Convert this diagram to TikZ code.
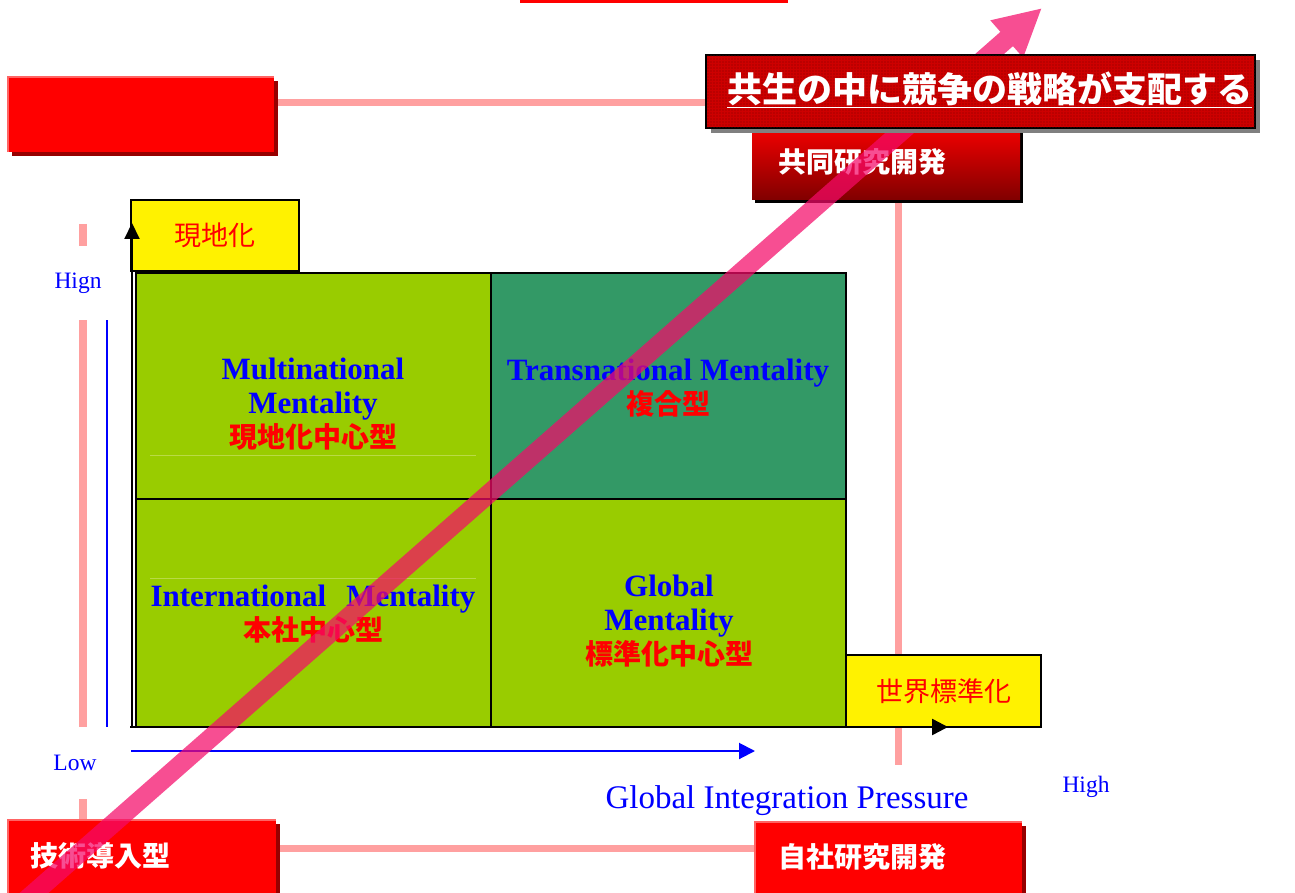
\documentclass[tikz,border=0pt]{standalone}
\usepackage{fontspec}
\setmainfont{Liberation Serif}
\newfontfamily\jp{Noto Sans CJK JP}
\usetikzlibrary{arrows.meta,patterns.meta,shadows,calc}
\pgfdeclarelayer{bg}
\pgfsetlayers{bg,main}
\definecolor{lgreen}{RGB}{153,204,0}
\definecolor{sgreen}{RGB}{51,153,102}
\definecolor{pinkl}{RGB}{255,160,160}
\definecolor{shadowred}{RGB}{150,0,0}
\definecolor{edgered}{RGB}{255,100,100}
\definecolor{darkredB}{RGB}{128,0,0}
\definecolor{arrowpink}{RGB}{245,10,105}
\definecolor{titlered}{RGB}{205,0,0}
\definecolor{faintline}{RGB}{185,218,70}
\newcommand\jpred[1]{{\jp\bfseries\color{red}\fontsize{28}{34}\selectfont #1}}
\tikzset{
  pinkline/.style={draw=pinkl, line width=7pt},
  redbox/.style={fill=red, inner sep=0pt, draw=none,
    drop shadow={shadow xshift=4pt, shadow yshift=-4pt, fill=shadowred, opacity=1}},
  boxlabel/.style={text=white, font=\jp\bfseries\fontsize{28}{30}\selectfont, anchor=west, inner sep=0pt},
  yellowbox/.style={fill=yellow, draw=black, line width=2pt, inner sep=0pt,
    text=red, font=\jp\fontsize{27}{30}\selectfont},
  cellbox/.style={draw=black, line width=2pt},
  celltext/.style={text=blue, font=\bfseries\fontsize{31}{34}\selectfont, align=center, inner sep=0pt},
  axlabel/.style={text=blue, font=\fontsize{23.5}{26}\selectfont, inner sep=0pt},
}
\begin{document}
\begin{tikzpicture}[x=1pt,y=-1pt]
\useasboundingbox (0,0) rectangle (1295,893);
\begin{pgfonlayer}{bg}
\fill[white] (0,0) rectangle (1295,893);
\end{pgfonlayer}

% grid cells
\draw[cellbox, fill=lgreen] (136,273) rectangle (491,499);
\draw[cellbox, fill=sgreen] (491,273) rectangle (846,499);
\draw[cellbox, fill=lgreen] (136,499) rectangle (491,727);
\draw[cellbox, fill=lgreen] (491,499) rectangle (846,727);
\draw[faintline, line width=1pt] (150,455) -- (476,455);
\draw[faintline, line width=1pt] (150,578) -- (476,578);

\node[celltext] (tltext) at (313,404) {Multinational\\Mentality\\\jpred{現地化中心型}};
\node[celltext] (trtext) at (668,388) {Transnational Mentality\\\jpred{複合型}};
\node[celltext] (bltext) at (313,614) {International\hspace{20pt}Mentality\\\jpred{本社中心型}};
\node[celltext] (brtext) at (669,621) {Global\\Mentality\\\jpred{標準化中心型}};

% yellow boxes
\node[yellowbox, minimum width=168pt, minimum height=71pt] (loc) at (215,235.5) {現地化};
\node[yellowbox, minimum width=195pt, minimum height=72pt] (std) at (943.5,691) {世界標準化};

% axes
\coordinate (org) at (132,727);
\coordinate (vtop) at (132,223);
\coordinate (horg) at (130,727);
\coordinate (hend) at (948,727);
\draw[black, line width=2pt, -{Triangle[width=15pt,length=16pt]}] (org) -- (vtop);
\draw[black, line width=2.5pt, -{Triangle[width=16pt,length=16pt]}] (horg) -- (hend);
\coordinate (borg) at (131,751);
\coordinate (bend) at (755,751);
\draw[blue, line width=2pt, -{Triangle[width=16pt,length=16pt]}] (borg) -- (bend);
\coordinate (bvtop) at (107,320);
\coordinate (bvbot) at (107,727);
\draw[blue, line width=1.6pt] (bvtop) -- (bvbot);

% axis labels
\node[axlabel, fill=white, minimum width=50pt, minimum height=74pt] (hign) at (78,283) {Hign};
\node[axlabel, fill=white, minimum width=50pt, minimum height=72pt] (low) at (75,763) {Low};
\node[axlabel] (high) at (1086,787) {High};
\node[text=blue, font=\fontsize{33}{36}\selectfont, inner sep=0pt] (gip) at (787,801) {Global Integration Pressure};

% red boxes
\node[fill=red, inner sep=0pt, minimum width=268pt, minimum height=40pt] (topbar) at (654,-17) {};
\node[redbox, minimum width=266pt, minimum height=75pt] (tlbox) at (141,114.5) {};
\draw[edgered, line width=2pt] (tlbox.south west) -- (tlbox.north west) -- (tlbox.north east);
\node[redbox, minimum width=268pt, minimum height=80pt] (tech) at (142,860) {};
\draw[edgered, line width=2pt] (tech.south west) -- (tech.north west) -- (tech.north east);
\node[boxlabel] (techlbl) at (30,856) {技術導入型};
\node[redbox, minimum width=267pt, minimum height=78pt] (own) at (888.5,861) {};
\draw[edgered, line width=2pt] (own.south west) -- (own.north west) -- (own.north east);
\node[boxlabel] (ownlbl) at (778,857) {自社研究開発};

\node[inner sep=0pt, minimum width=268pt, minimum height=80pt, top color=red, bottom color=darkredB,
  drop shadow={shadow xshift=3pt, shadow yshift=-3pt, fill=black, opacity=1}] (joint) at (886,160) {};
\node[boxlabel] (jointlbl) at (778,162) {共同研究開発};

% connectors on background
\coordinate (vbot) at (898,765);
\coordinate (lvtop) at (83,224);
\begin{pgfonlayer}{bg}
\draw[pinkline] ([yshift=11.5pt]tlbox.east) -- ([yshift=11.5pt]tlbox.east -| 706,0);
\draw[pinkline] ([yshift=12pt]tech.east) -- ([yshift=12pt]tech.east -| own.west);
\draw[pinkline] ([xshift=12pt]joint.south) -- (vbot);
\draw[pinkline, line width=8pt] (lvtop) -- (lvtop |- tech.north);
\end{pgfonlayer}

% big arrow
\coordinate (arrS) at (26,900);
\coordinate (arrT) at (1042,8);
\begin{scope}[transparency group, opacity=0.72]
\draw[arrowpink, line width=19pt, -{Triangle[width=46pt,length=47pt]}] (arrS) -- (arrT);
\end{scope}

% title
\node[fill=titlered, draw=black, line width=2pt, inner sep=0pt, minimum width=549pt, minimum height=73pt,
  drop shadow={shadow xshift=5pt, shadow yshift=-5pt, fill=black!50, opacity=1},
  postaction={pattern={Dots[distance=3pt,radius=0.55pt]}, pattern color=darkredB}] (title) at (980.5,91.5) {};
\node[text=white, inner sep=0pt, font=\jp\bfseries\fontsize{35}{40}\selectfont] (titletext) at (989.5,90) {\underline{共生の中に競争の戦略が支配する}};
\end{tikzpicture}
\end{document}
